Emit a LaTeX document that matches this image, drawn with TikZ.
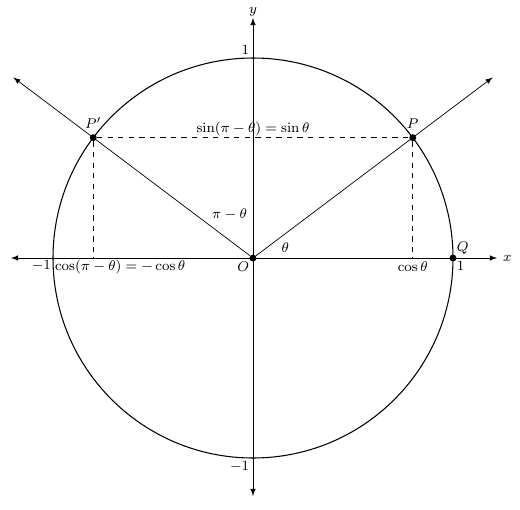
\documentclass[tikz,border=0pt]{standalone}
\begin{document}
\begin{tikzpicture}[scale=4,>=latex,font=\footnotesize]
\useasboundingbox (-1.265,-1.255) rectangle (1.335,1.29);
\tikzset{dot/.style={circle, fill, inner sep=1.4pt}}
\node[dot] (O) at (0,0) {};
\node[dot] (P) at (37:1) {};
\node[dot] (Pp) at (143:1) {};
\node[dot] (Q) at (1,0) {};
\coordinate (xl) at (-1.21,0);
\coordinate (xr) at (1.22,0);
\coordinate (yt) at (0,1.2);
\coordinate (yb) at (0,-1.19);
\coordinate (r1) at (37:1.5);
\coordinate (r2) at (143:1.5);
\coordinate (A) at (P |- O);
\coordinate (B) at (Pp |- O);
\coordinate (one) at (0,1);
\coordinate (mone) at (0,-1);
\coordinate (L) at (-1,0);
\path[draw,semithick] (O) circle (1);
\path[draw,<->] (xl) -- (xr);
\path[draw,<->] (yb) -- (yt);
\path[draw,->] (O) -- (r1);
\path[draw,->] (O) -- (r2);
\path[draw,dashed] (P) -- (A);
\path[draw,dashed] (Pp) -- (B);
\path[draw,dashed] (Pp) -- (P);
\node[right] (xlab) at (xr) {$x$};
\node[above, inner sep=1pt] (ylab) at (yt) {$y$};
\node[above left, inner sep=2pt] (l1) at (one) {$1$};
\node[below left, inner sep=2pt] (l2) at (mone) {$-1$};
\node[below left, inner sep=1pt] (l3) at (L) {$-1$};
\node[below right, inner sep=1pt] (l4) at (L) {$\cos(\pi-\theta)=-\cos\theta$};
\node[below right, inner sep=2pt] (l5) at (Q) {$1$};
\node[above right, inner sep=2pt] (qlab) at (Q) {$Q$};
\node[below left, inner sep=2pt] (olab) at (O) {$O$};
\node[below, inner sep=2pt] (clab) at (A) {$\cos\theta$};
\node[above, inner sep=5pt] (plab) at (P) {$P$};
\node[above, inner sep=5pt] (pplab) at (Pp) {$P'$};
\node[above, inner sep=1pt] (slab) at (0,0.6) {$\sin(\pi-\theta)=\sin\theta$};
\node (tlab) at (18:0.17) {$\theta$};
\node (alab) at (118:0.25) {$\pi-\theta$};
\end{tikzpicture}
\end{document}
